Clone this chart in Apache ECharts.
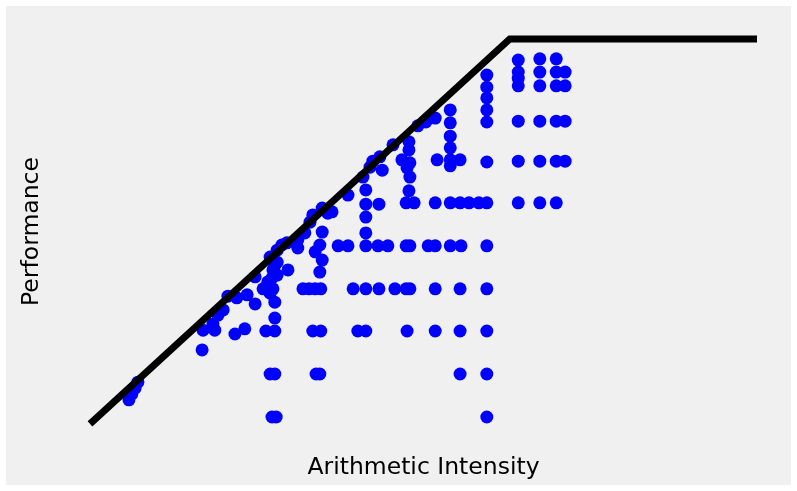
<!DOCTYPE html>
<html>
<head>
<meta charset="utf-8">
<script src="https://cdn.jsdelivr.net/npm/echarts@6/dist/echarts.min.js"></script>
<style>
  html, body { margin: 0; padding: 0; background: #ffffff; }
  #chart { width: 797px; height: 491px; }
</style>
</head>
<body>
<div id="chart"></div>
<script>
// Roofline plot; both axes in log2 units.
const xRange = [-3.88, 10.34];
const yRange = [-0.163, 8.79];

// Roofline: memory-bound slope up to the ridge point, then the compute ceiling.
const roofIntensity = [-3.88, 5.07, 10.34];
const roofPerformance = [-0.16, 8.79, 8.79];

// Measured kernels: log2(arithmetic intensity) and log2(performance).
const kernelIntensity = [
  5.25, 5.25, 5.25, 5.25, 5.25, 5.25, 5.25,
  5.71, 5.71, 5.71, 5.71, 5.71, 5.71,
  6.06, 6.06, 6.06, 6.06, 6.06, 6.06,
  6.25, 6.25, 6.25, 6.25,
  4.58, 4.58, 4.58, 4.58, 4.58, 4.58, 4.58, 4.58, 4.58, 4.58, 4.58, 4.58,
  3.80, 3.80, 3.80, 3.80, 3.80, 3.80, 3.80, 3.80,
  3.52, 4.01, 3.48, 3.28, 3.11,
  2.86, 3.03, 3.48, 4.01, 4.20, 4.41,
  1.41, 1.62, 2.00, 2.26, 2.47, 2.86, 2.94, 3.33, 3.48, 4.03,
  -0.19, 0.02, 0.66, 0.79, 0.92, 1.04, 1.73, 2.00, 2.28, 2.62, 2.86, 2.94, 3.48, 4.01,
  -0.13, 0.06, 0.87, 1.04, 1.83, 2.00, 2.88, 3.48, 4.01,
  -0.04, 0.06, 0.94, 1.02, 4.01,
  0.00, 0.09,
  2.92, 2.92, 2.94, 2.94, 2.92, 2.77, 2.58, 2.88,
  2.30, 2.15, 2.09, 2.35, 1.94, 1.62, 1.28,
  2.00, 2.00, 2.00, 2.00, 2.28,
  1.07, 1.19, 0.87, 0.81, 1.07, 0.70, 0.55, 0.32, 0.21, 0.55, 1.02, 0.92, 1.07, 1.02,
  0.34, 0.11, 0.02, -0.04, -0.36, 0.11,
  -1.49, -1.47, -1.22, -0.79, -0.58, 0.06, -0.36, 0.06, -0.04, -0.53, -0.75, -0.94,
  -1.04, -1.15, -1.26, 0.00, 0.11, 0.06, -0.09,
  -3.05, -2.99, -2.92, -2.86
];
const kernelPerformance = [
  8.30, 8.02, 7.88, 7.70, 6.88, 5.95, 4.98,
  8.33, 8.02, 7.70, 6.88, 5.95, 4.98,
  8.33, 8.02, 7.70, 6.88, 5.95, 4.98,
  8.02, 7.70, 6.88, 5.95,
  7.95, 7.67, 7.42, 7.14, 6.86, 5.93, 4.98, 3.98, 2.98, 2.00, 1.00, 0.00,
  7.14, 6.84, 6.53, 6.26, 5.98, 5.84, 4.98, 3.98,
  5.98, 5.98, 6.95, 6.86, 6.77,
  4.98, 4.98, 4.98, 4.98, 4.98, 4.98,
  3.98, 3.98, 3.98, 3.98, 3.98, 3.98, 3.98, 3.98, 3.98, 3.98,
  2.98, 2.98, 2.98, 2.98, 2.98, 2.98, 2.98, 2.98, 2.98, 2.98, 2.98, 2.98, 2.98, 2.98,
  2.00, 2.00, 2.00, 2.00, 2.00, 2.00, 2.00, 2.00, 2.00,
  1.00, 1.00, 1.00, 1.00, 1.00,
  0.00, 0.00,
  6.40, 6.21, 5.91, 5.58, 5.26, 5.98, 6.33, 5.79,
  6.05, 5.95, 5.81, 5.74, 5.58, 5.16, 4.77,
  5.28, 4.95, 4.65, 4.28, 4.95,
  4.86, 4.74, 4.70, 4.53, 4.30, 4.28, 4.12, 4.05, 4.00, 3.93, 4.00, 3.84, 3.65, 3.37,
  3.42, 3.60, 3.42, 3.72, 3.26, 3.88,
  1.56, 2.02, 2.02, 1.93, 2.05, 2.30, 2.63, 2.67, 2.88, 2.84, 2.77, 2.81,
  2.49, 2.37, 2.16, 3.23, 3.30, 3.53, 3.14,
  0.40, 0.53, 0.67, 0.81
];

const kernelPoints = kernelIntensity.map((x, i) => [x, kernelPerformance[i]]);
const roofPoints = roofIntensity.map((x, i) => [x, roofPerformance[i]]);

const chart = echarts.init(document.getElementById('chart'), null, { renderer: 'canvas' });

const labelFont = {
  fontFamily: 'DejaVu Sans',
  fontSize: 23.5,
  color: '#000000'
};

chart.setOption({
  animation: false,
  backgroundColor: '#ffffff',
  graphic: [{
    type: 'rect',
    z: -10,
    silent: true,
    shape: { x: 6, y: 6, width: 785, height: 479 },
    style: { fill: '#f0f0f0' }
  }],
  grid: { left: 90, right: 40, top: 39, bottom: 67, containLabel: false },
  xAxis: {
    type: 'value',
    min: xRange[0],
    max: xRange[1],
    name: 'Arithmetic Intensity',
    nameLocation: 'middle',
    nameGap: 32,
    nameTextStyle: labelFont,
    axisLine: { show: false },
    axisTick: { show: false },
    axisLabel: { show: false },
    splitLine: { show: false }
  },
  yAxis: {
    type: 'value',
    min: yRange[0],
    max: yRange[1],
    name: 'Performance',
    nameLocation: 'middle',
    nameGap: 46,
    nameRotate: 90,
    nameTextStyle: labelFont,
    axisLine: { show: false },
    axisTick: { show: false },
    axisLabel: { show: false },
    splitLine: { show: false }
  },
  series: [
    {
      name: 'Kernels',
      type: 'scatter',
      data: kernelPoints,
      symbol: 'circle',
      symbolSize: 13,
      itemStyle: { color: '#0000ff', opacity: 1 },
      z: 2,
      clip: false
    },
    {
      name: 'Roofline',
      type: 'line',
      data: roofPoints,
      symbol: 'none',
      lineStyle: { color: '#000000', width: 7, cap: 'butt', join: 'miter' },
      z: 3,
      clip: false
    }
  ]
});
</script>
</body>
</html>
